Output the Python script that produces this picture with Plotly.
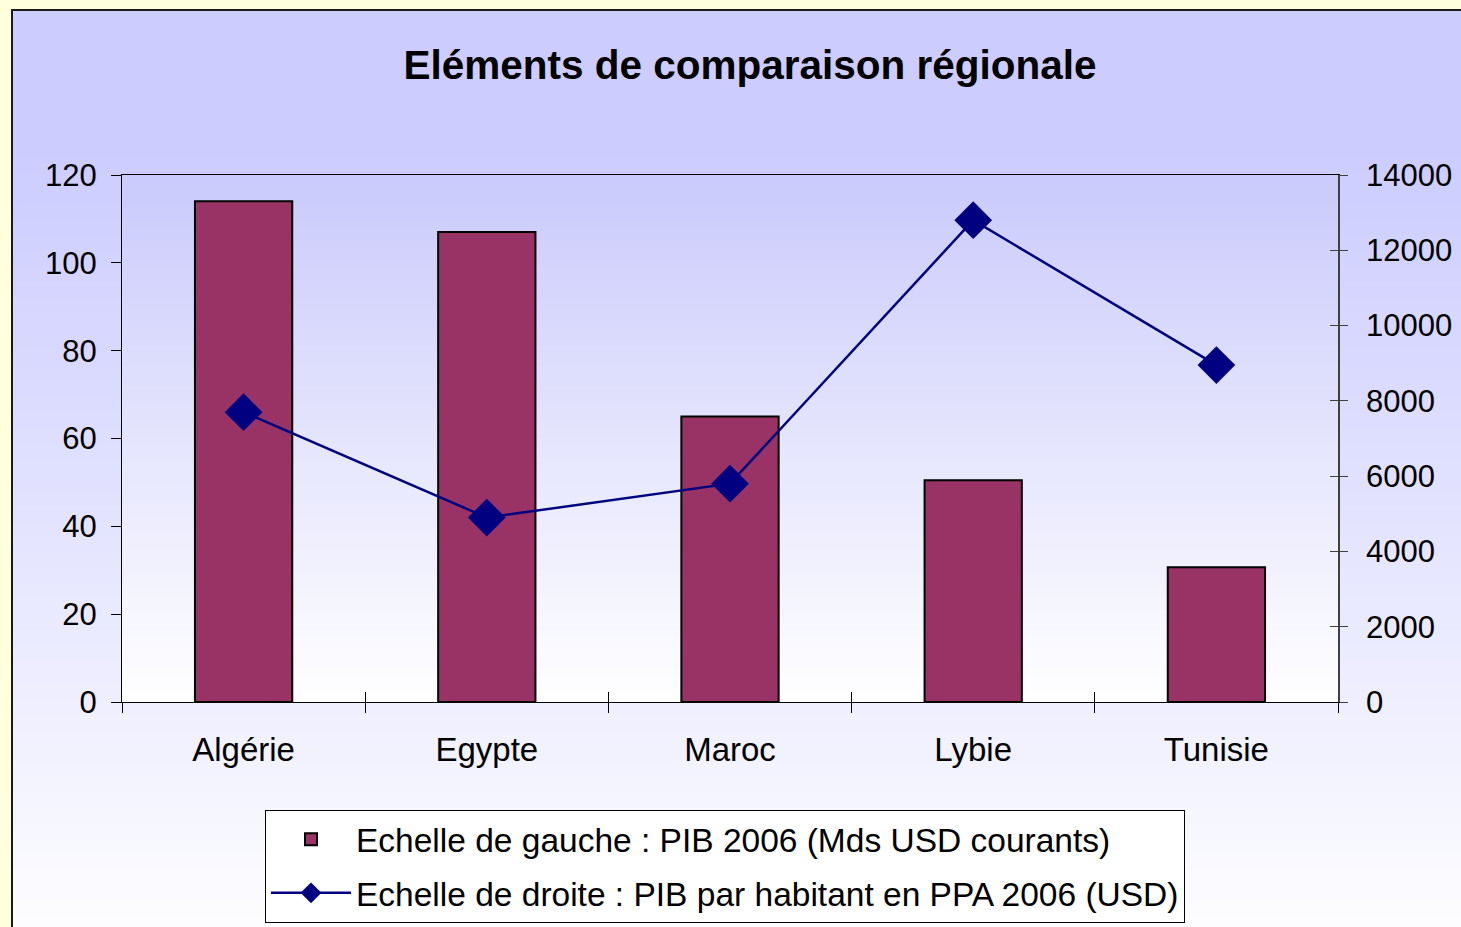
import plotly.graph_objects as go

# ---- data ----
countries = ["Algérie", "Egypte", "Maroc", "Lybie", "Tunisie"]
pib_2006 = [114, 107, 65, 50.5, 30.7]            # Mds USD courants (left axis)
pib_hab_ppa = [7700, 4900, 5800, 12800, 8950]    # USD (right axis)
left_ticks = [0, 20, 40, 60, 80, 100, 120]
right_ticks = [0, 2000, 4000, 6000, 8000, 10000, 12000, 14000]

title_text = "Eléments de comparaison régionale"
bar_name = "Echelle de gauche : PIB 2006 (Mds USD courants)"
line_name = "Echelle de droite : PIB par habitant en PPA 2006 (USD)"

W, H = 1461, 927
L, R, T, B = 122, 1338, 175, 702
FONT = "Liberation Sans, Arial, sans-serif"


def px_x(px):
    return (px - L) / (R - L)


def px_y(py):
    return (B - py) / (B - T)


def lerp(c1, c2, t):
    return tuple(round(a + (b - a) * t) for a, b in zip(c1, c2))


shapes = []
# outer chart area gradient
top_c, bot_c = (204, 204, 255), (253, 253, 255)
y0, y1 = 10, 940
n = 120
for i in range(n):
    ya = y0 + (y1 - y0) * i / n
    yb = y0 + (y1 - y0) * (i + 1) / n + 1
    mid = (ya + yb) / 2
    t = min(1.0, max(0.0, (mid - 150) / (927 - 150)))
    c = lerp(top_c, bot_c, t)
    shapes.append(dict(type="rect", xref="paper", yref="paper", layer="below",
                       x0=px_x(12), x1=px_x(1480), y0=px_y(yb), y1=px_y(ya),
                       fillcolor="rgb(%d,%d,%d)" % c, line=dict(width=0)))
# plot area gradient
ptop, pbot = (202, 202, 252), (255, 255, 255)
n2 = 80
for i in range(n2):
    ya = T + (B - T) * i / n2
    yb = min(B, T + (B - T) * (i + 1) / n2 + 1)
    t = ((ya + yb) / 2 - T) / (B - T)
    c = lerp(ptop, pbot, t)
    shapes.append(dict(type="rect", xref="paper", yref="paper", layer="below",
                       x0=0, x1=1, y0=px_y(yb), y1=px_y(ya),
                       fillcolor="rgb(%d,%d,%d)" % c, line=dict(width=0)))
# chart area border
shapes.append(dict(type="rect", xref="paper", yref="paper", layer="below",
                   x0=px_x(12), x1=px_x(1500), y0=px_y(960), y1=px_y(10),
                   fillcolor="rgba(0,0,0,0)", line=dict(color="#1a1a1a", width=2)))

fig = go.Figure()
fig.add_trace(go.Bar(
    x=countries, y=pib_2006, name=bar_name, legendgroup="g1",
    marker=dict(color="#993366", line=dict(color="#000000", width=2)),
    yaxis="y", xaxis="x",
))
fig.add_trace(go.Scatter(
    x=countries, y=pib_hab_ppa, name=line_name, legendgroup="g2",
    mode="lines+markers",
    line=dict(color="#000080", width=2.5),
    marker=dict(symbol="diamond", size=29, color="#000080"),
    yaxis="y2", xaxis="x",
))
# empty helper traces so the overlay tick axes are drawn (crossing ticks)
fig.add_trace(go.Scatter(x=[], y=[], xaxis="x2", yaxis="y", showlegend=False,
                         hoverinfo="skip"))
fig.add_trace(go.Scatter(x=[], y=[], xaxis="x", yaxis="y3", showlegend=False,
                         hoverinfo="skip"))

tick_font = dict(family=FONT, size=31, color="#000000")

fig.update_layout(
    width=W, height=H,
    margin=dict(l=L, r=W - R, t=T, b=H - B, autoexpand=False),
    paper_bgcolor="#ffffdd",
    plot_bgcolor="rgba(0,0,0,0)",
    shapes=shapes,
    bargap=0.6,
    showlegend=True,
    title=dict(text="<b>%s</b>" % title_text, x=px_x(750), xref="paper", xanchor="center",
               y=1 - 65 / H, yanchor="middle",
               font=dict(family=FONT, size=40.5, color="#000000")),
    xaxis=dict(type="category", categoryorder="array", categoryarray=countries,
               range=[-0.5, len(countries) - 0.5],
               tickson="boundaries", ticks="outside", ticklen=10, tickwidth=1,
               tickcolor="#000000", showline=True, linecolor="#000000", linewidth=1,
               mirror=True, showgrid=False, zeroline=False,
               tickfont=dict(family=FONT, size=33, color="#000000"),
               ticklabelstandoff=18),
    xaxis2=dict(overlaying="x", anchor="y", side="bottom",
                range=[-0.5, len(countries) - 0.5],
                tickmode="array", tickvals=[i - 0.5 for i in range(len(countries) + 1)],
                ticks="inside", ticklen=10, tickwidth=1, tickcolor="#000000",
                showticklabels=False, showline=False, showgrid=False, zeroline=False),
    yaxis=dict(range=[0, 120], tickmode="array", tickvals=left_ticks,
               ticks="outside", ticklen=10, tickwidth=1, tickcolor="#000000",
               showline=True, linecolor="#000000", linewidth=1,
               showgrid=False, zeroline=False, tickfont=tick_font,
               ticklabelstandoff=8),
    yaxis2=dict(range=[0, 14000], tickmode="array", tickvals=right_ticks,
                ticktext=[str(v) for v in right_ticks],
                overlaying="y", side="right", anchor="x",
                ticks="outside", ticklen=8, tickwidth=1, tickcolor="#404040",
                showline=True, linecolor="#404040", linewidth=1.5,
                showgrid=False, zeroline=False, tickfont=tick_font,
                ticklabelstandoff=12),
    yaxis3=dict(range=[0, 14000], tickmode="array", tickvals=right_ticks,
                overlaying="y", side="right", anchor="x",
                ticks="inside", ticklen=8, tickwidth=1, tickcolor="#404040",
                showticklabels=False, showline=False, showgrid=False, zeroline=False),
    legend=dict(x=px_x(725), y=px_y(810), xanchor="center", yanchor="top",
                orientation="v", bgcolor="#ffffff", bordercolor="#000000", borderwidth=1,
                font=dict(family=FONT, size=33.5, color="#000000"),
                tracegroupgap=7, traceorder="grouped", itemwidth=80),
)

fig.write_html("out.html", config={"displayModeBar": False},
               post_script="document.body.style.margin='0';")
